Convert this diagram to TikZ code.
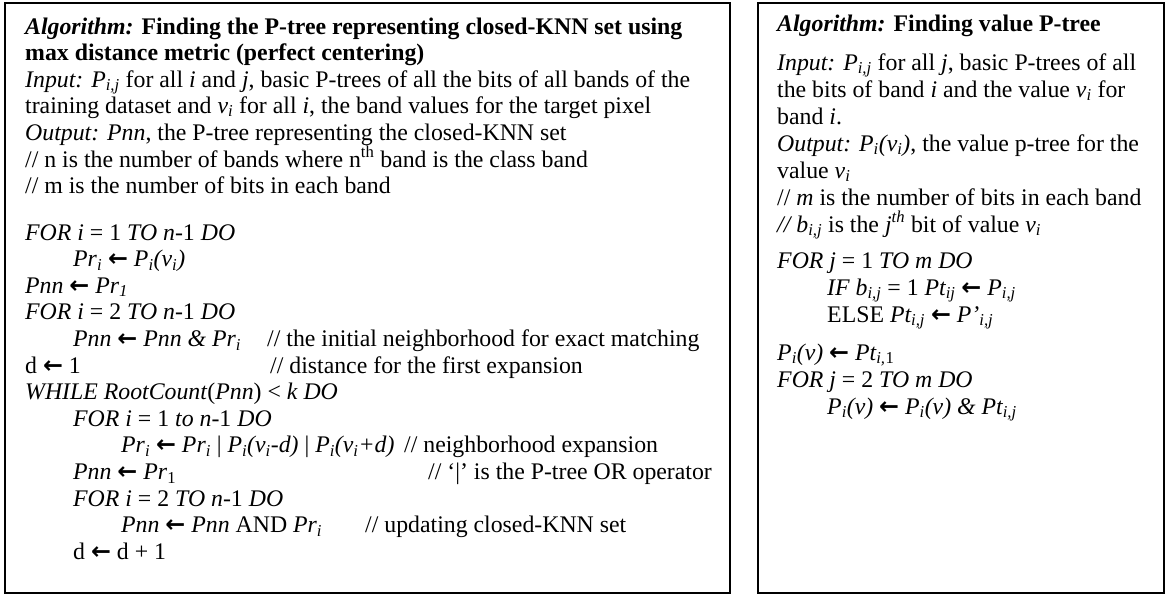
\documentclass[tikz,border=0pt]{standalone}
\usepackage{fontspec}
\setmainfont{Liberation Serif}
\newfontfamily\arrowfont{DejaVu Sans}
\newcommand\la{{\arrowfont\bfseries ←}}
\newcommand\sub[1]{\textsubscript{#1}}
\newcommand\sups[1]{\textsuperscript{#1}}
\tikzset{
  txt/.style={anchor=base west, inner sep=0pt, font=\fontsize{23.8}{26}\selectfont},
  rtxt/.style={anchor=base west, inner sep=0pt, font=\fontsize{23.8}{26}\selectfont},
  frame/.style={draw=black, line width=1.8pt}
}
\begin{document}
\begin{tikzpicture}[x=1pt,y=-1pt]
\useasboundingbox (0,0) rectangle (1166,595);
\node[frame, minimum width=725pt, minimum height=590pt, anchor=north west, inner sep=0pt] (leftbox) at (4,2) {};
\node[frame, minimum width=406pt, minimum height=590pt, anchor=north west, inner sep=0pt] (rightbox) at (757,2) {};
% ---------- left box ----------
\node[txt] (l1) at (25,34) {\textbf{\textit{Algorithm:} Finding the P-tree representing closed-KNN set using}};
\node[txt] (l2) at (25,60) {\textbf{max distance metric (perfect centering)}};
\node[txt] (l3) at (25,87) {\textit{Input: P\sub{i,j}} for all \textit{i} and \textit{j}, basic P-trees of all the bits of all bands of the};
\node[txt] (l4) at (25,113) {training dataset and \textit{v\sub{i}} for all \textit{i}, the band values for the target pixel};
\node[txt] (l5) at (25,140) {\textit{Output: Pnn}, the P-tree representing the closed-KNN set};
\node[txt] (l6) at (25,167) {// n is the number of bands where n\sups{th} band is the class band};
\node[txt] (l7) at (25,193) {// m is the number of bits in each band};
\node[txt] (c1) at (25,240) {\textit{FOR i} = 1 \textit{TO n}-1 \textit{DO}};
\node[txt] (c2) at (73,266.6) {\textit{Pr\sub{i}} \la{} \textit{P\sub{i}(v\sub{i})}};
\node[txt] (c3) at (25,293.2) {\textit{Pnn} \la{} \textit{Pr\sub{1}}};
\node[txt] (c4) at (25,319.8) {\textit{FOR i} = 2 \textit{TO n}-1 \textit{DO}};
\node[txt] (c5) at (73,346.4) {\textit{Pnn} \la{} \textit{Pnn \& Pr\sub{i}}};
\node[txt] (c5c) at (267,346.4) {// the initial neighborhood for exact matching};
\node[txt] (c6) at (25,373) {d \la{} 1};
\node[txt] (c6c) at (270,373) {// distance for the first expansion};
\node[txt] (c7) at (25,399.6) {\textit{WHILE RootCount}(\textit{Pnn}) < \textit{k DO}};
\node[txt] (c8) at (73,426.2) {\textit{FOR i} = 1 \textit{to n}-1 \textit{DO}};
\node[txt] (c9) at (121,452.8) {\textit{Pr\sub{i}} \la{} \textit{Pr\sub{i}} | \textit{P\sub{i}(v\sub{i}-d)} | \textit{P\sub{i}(v\sub{i}+d)}};
\node[txt] (c9c) at (404,452.8) {// neighborhood expansion};
\node[txt] (c10) at (73,479.4) {\textit{Pnn} \la{} \textit{Pr}\sub{1}};
\node[txt] (c10c) at (428,479.4) {// ‘|’ is the P-tree OR operator};
\node[txt] (c11) at (73,506) {\textit{FOR i} = 2 \textit{TO n}-1 \textit{DO}};
\node[txt] (c12) at (121,532.6) {\textit{Pnn} \la{} \textit{Pnn} AND \textit{Pr\sub{i}}};
\node[txt] (c12c) at (365,532.6) {// updating closed-KNN set};
\node[txt] (c13) at (73,559.2) {d \la{} d + 1};
% ---------- right box ----------
\node[rtxt] (r1) at (777,31) {\textbf{\textit{Algorithm:} Finding value P-tree}};
\node[rtxt] (r2) at (777,70) {\textit{Input: P\sub{i,j}} for all \textit{j}, basic P-trees of all};
\node[rtxt] (r3) at (777,97) {the bits of band \textit{i} and the value \textit{v\sub{i}} for};
\node[rtxt] (r4) at (777,124) {band \textit{i}.};
\node[rtxt] (r5) at (777,151) {\textit{Output: P\sub{i}(v\sub{i})}, the value p-tree for the};
\node[rtxt] (r6) at (777,178) {value \textit{v\sub{i}}};
\node[rtxt] (r7) at (777,205) {// \textit{m} is the number of bits in each band};
\node[rtxt] (r8) at (777,232) {\textit{// b\sub{i,j}} is the \textit{j\sups{th}} bit of value \textit{v\sub{i}}};
\node[rtxt] (r9) at (777,268) {\textit{FOR j} = 1 \textit{TO m DO}};
\node[rtxt] (r10) at (827,295) {\textit{IF b\sub{i,j}} = 1 \textit{Pt\sub{ij}} \la{} \textit{P\sub{i,j}}};
\node[rtxt] (r11) at (827,322) {ELSE \textit{Pt\sub{i,j}} \la{} \textit{P’\sub{i,j}}};
\node[rtxt] (r12) at (777,360) {\textit{P\sub{i}(v)} \la{} \textit{Pt\sub{i,}}\sub{1}};
\node[rtxt] (r13) at (777,387) {\textit{FOR j} = 2 \textit{TO m DO}};
\node[rtxt] (r14) at (827,414) {\textit{P\sub{i}(v)} \la{} \textit{P\sub{i}(v) \& Pt\sub{i,j}}};
\end{tikzpicture}
\end{document}
